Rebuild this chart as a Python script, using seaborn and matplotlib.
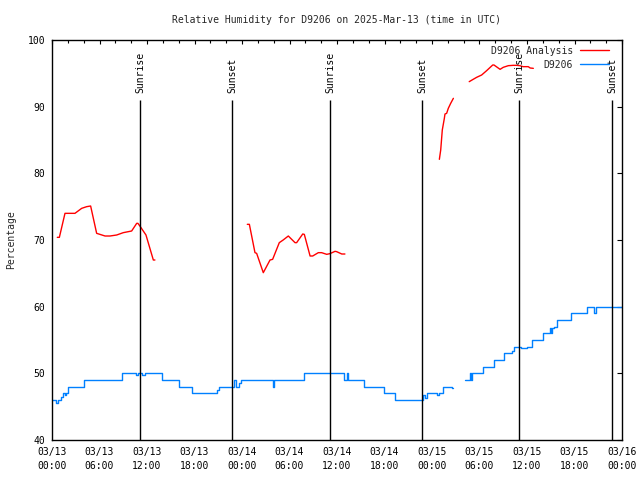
import numpy as np
import pandas as pd
import matplotlib
matplotlib.use("Agg")
import matplotlib.pyplot as plt
from matplotlib.lines import Line2D
from matplotlib.ticker import FixedLocator, MultipleLocator
import seaborn as sns

# ---------------- data ----------------
title = "Relative Humidity for D9206 on 2025-Mar-13 (time in UTC)"
y_label = "Percentage"
x_tick_hours = [0, 6, 12, 18, 24, 30, 36, 42, 48, 54, 60, 66, 72]
x_tick_labels = ["03/13\n00:00", "03/13\n06:00", "03/13\n12:00", "03/13\n18:00",
                 "03/14\n00:00", "03/14\n06:00", "03/14\n12:00", "03/14\n18:00",
                 "03/15\n00:00", "03/15\n06:00", "03/15\n12:00", "03/15\n18:00",
                 "03/16\n00:00"]
y_ticks = [40, 50, 60, 70, 80, 90, 100]

# D9206 Analysis (red): hours since 2025-03-13 00:00 UTC; segment id separates data gaps
analysis_seg = [0] * 19 + [1] * 24 + [2] * 10 + [3] * 17
analysis_hours = [0.67, 0.93, 1.64, 2.9, 3.75, 4.38, 4.88, 5.64, 6.7, 7.33, 8.17, 9.0,
                  10.06, 10.7, 10.85, 11.1, 11.87, 12.8, 13.0,
                  24.67, 24.93, 25.64, 25.85, 26.69, 27.54, 27.87, 28.71, 29.2, 29.85,
                  30.7, 30.9, 31.67, 31.87, 32.6, 32.93, 33.64, 34.06, 34.7, 35.1,
                  35.75, 35.96, 36.6, 37.0,
                  48.93, 49.1, 49.2, 49.3, 49.56, 49.64, 49.85, 50.06, 50.36, 50.7,
                  52.7, 53.2, 53.64, 54.27, 54.9, 55.67, 55.83, 56.6, 57.0, 57.64,
                  58.27, 58.7, 59.1, 59.5, 60.16, 60.4, 60.8]
analysis_rh = [70.4, 70.4, 74.0, 74.0, 74.75, 75.0, 75.1, 71.0, 70.6, 70.6, 70.75, 71.1,
               71.35, 72.5, 72.5, 72.1, 70.75, 67.0, 67.0,
               72.35, 72.35, 68.1, 68.0, 65.1, 67.0, 67.1, 69.6, 70.0, 70.6,
               69.6, 69.6, 70.9, 70.85, 67.6, 67.6, 68.1, 68.1, 67.85, 67.95,
               68.3, 68.25, 67.9, 67.9,
               82.1, 83.5, 85.0, 86.5, 88.25, 88.9, 89.0, 89.75, 90.5, 91.25,
               93.75, 94.1, 94.4, 94.75, 95.4, 96.25, 96.25, 95.6, 95.9, 96.15,
               96.2, 96.2, 96.15, 96.0, 96.0, 95.8, 95.75]

# D9206 observations (blue): change points, drawn as steps
obs_seg = [0] * 40 + [1] * 25
obs_hours = [0.0, 0.55, 0.8, 1.15, 1.4, 1.6, 1.8, 2.05, 4.1, 8.9,
             10.65, 10.85, 11.4, 11.7, 13.95, 16.05, 17.7, 20.9, 21.1, 23.0,
             23.2, 23.6, 23.9, 27.95, 28.1, 31.8, 36.85, 37.2, 37.45, 39.4,
             41.95, 43.3, 46.9, 47.1, 47.35, 48.6, 48.9, 49.35, 50.55, 50.7,
             52.2, 52.75, 52.9, 53.1, 54.4, 55.8, 57.05, 58.15, 58.35, 59.3,
             59.95, 60.6, 62.0, 62.85, 63.0, 63.2, 63.45, 63.8, 65.6, 67.6,
             68.5, 68.75, 70.0, 71.0, 72.0]
obs_rh = [46.0, 45.6, 46.0, 46.4, 47.0, 46.8, 47.0, 48.0, 49.0, 50.0,
          49.75, 50.0, 49.75, 50.0, 49.0, 48.0, 47.0, 47.5, 48.0, 49.0,
          48.0, 48.5, 49.0, 48.0, 49.0, 50.0, 49.0, 50.0, 49.0, 48.0,
          47.1, 46.0, 46.8, 46.3, 47.0, 46.75, 47.0, 48.0, 47.85, 47.85,
          49.0, 50.0, 49.0, 50.0, 51.0, 52.0, 53.0, 53.3, 54.0, 53.85,
          54.0, 55.0, 56.0, 56.75, 56.0, 56.75, 57.0, 58.0, 59.0, 60.0,
          59.0, 60.0, 60.0, 60.0, 60.0]

event_hours = [11.1, 22.75, 35.1, 46.8, 59.05, 70.8]
event_labels = ["Sunrise", "Sunset", "Sunrise", "Sunset", "Sunrise", "Sunset"]

series_labels = ["D9206 Analysis", "D9206"]
series_colors = ["#ff0000", "#0080ff"]

analysis_df = pd.DataFrame({"seg": analysis_seg, "hour": analysis_hours, "rh": analysis_rh})
obs_df = pd.DataFrame({"seg": obs_seg, "hour": obs_hours, "rh": obs_rh})

# ---------------- style ----------------
sns.set_theme(style="white")
plt.rcParams["font.family"] = ["DejaVu Sans Mono", "DejaVu Sans"]
plt.rcParams["font.size"] = 7

fig = plt.figure(figsize=(6.4, 4.8), dpi=100)
ax = fig.add_axes([52 / 640, 40 / 480, 570 / 640, 400 / 480])

sns.lineplot(data=obs_df, x="hour", y="rh", units="seg", estimator=None,
             color=series_colors[1], lw=1.0, drawstyle="steps-post", ax=ax)
sns.lineplot(data=analysis_df, x="hour", y="rh", units="seg", estimator=None,
             color=series_colors[0], lw=1.0, ax=ax)

ax.vlines(event_hours, 40, 91, color="black", lw=1.0)
for h, lab in zip(event_hours, event_labels):
    ax.text(h, 92.1, lab, rotation=90, ha="center", va="bottom", fontsize=7, color="black")

ax.set_xlim(0, 72)
ax.set_ylim(40, 100)
ax.xaxis.set_major_locator(FixedLocator(x_tick_hours))
ax.set_xticklabels(x_tick_labels, linespacing=1.45)
ax.xaxis.set_minor_locator(MultipleLocator(2))
ax.set_yticks(y_ticks)
ax.set_yticklabels([str(v) for v in y_ticks])

ax.tick_params(axis="both", which="both", direction="in", top=True, right=True,
               colors="black", labelsize=7, width=0.8, pad=5)
ax.tick_params(axis="y", which="major", length=3.4)
ax.tick_params(axis="x", which="major", length=3.0)
ax.tick_params(axis="x", which="minor", length=2.5)
for s in ax.spines.values():
    s.set_visible(True)
    s.set_color("black")
    s.set_linewidth(1.0)

ax.set_xlabel("")
ax.set_ylabel(y_label, fontsize=7)
ax.yaxis.set_label_coords(-0.063, 0.5)
ax.set_title(title, fontsize=7, pad=12)
ax.grid(False)

handles = [Line2D([], [], color=c, lw=1.0, label=l) for c, l in zip(series_colors, series_labels)]
ax.legend(handles=handles, loc="upper right", bbox_to_anchor=(0.984, 0.995),
          borderaxespad=0, frameon=False, markerfirst=False, fontsize=7,
          handlelength=3.0, handletextpad=0.7, labelspacing=0.38)

fig.savefig("out.png", dpi=100)
